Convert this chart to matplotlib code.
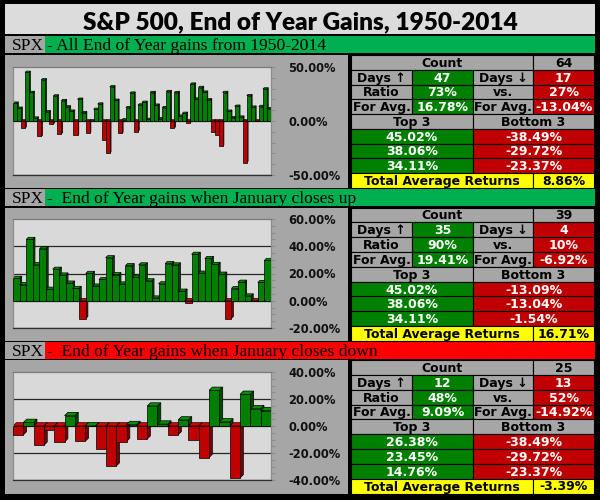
import matplotlib
matplotlib.use("Agg")
import matplotlib.pyplot as plt
from matplotlib.patches import Rectangle, Polygon
from matplotlib.ticker import MultipleLocator, FuncFormatter
import numpy as np

# ---------------- data ----------------
title = "S&P 500, End of Year Gains, 1950-2014"
section_titles = ["- All End of Year gains from 1950-2014",
                  "-  End of Year gains when January closes up",
                  "-  End of Year gains when January closes down"]

# yearly gains 1951-2014 (%)
gains_all = [16.46, 11.78, -6.62, 45.02, 26.40, 2.62, -14.31, 38.06, 8.48, -2.97,
             23.13, -11.81, 18.89, 12.97, 9.06, -13.09, 20.09, 7.66, -11.36, 0.10,
             10.79, 15.63, -17.37, -29.72, 31.55, 19.15, -11.50, 1.06, 12.31, 25.77,
             -9.73, 14.76, 17.27, 1.40, 26.33, 14.62, 2.03, 12.40, 27.25, -6.56,
             26.31, 4.46, 7.06, -1.54, 34.11, 20.26, 31.01, 26.67, 19.53, -10.14,
             -13.04, -23.37, 26.38, 8.99, 3.00, 13.62, 3.53, -38.49, 23.45, 12.78,
             -0.003, 13.41, 29.60, 11.39]
# years where January closed up
gains_jan_up = [16.46, 11.78, 45.02, 26.40, 38.06, 8.48, 23.13, 18.89, 12.97, 9.06,
                -13.09, 20.09, 10.79, 15.63, 31.55, 19.15, 12.31, 25.77, 17.27, 26.33,
                14.62, 2.03, 12.40, 27.25, 26.31, 7.06, -1.54, 34.11, 20.26, 31.01,
                26.67, 19.53, -13.04, 8.99, 13.62, 3.53, -0.003, 13.41, 29.60]
# years where January closed down
gains_jan_down = [-6.62, 2.62, -14.31, -2.97, -11.81, 7.66, -11.36, 0.10, -17.37, -29.72,
                  -11.50, 1.06, -9.73, 14.76, 1.40, -6.56, 4.46, -10.14, -23.37, 26.38,
                  3.00, -38.49, 23.45, 12.78, 11.39]

counts = [64, 39, 25]
days_up = [47, 35, 12]
days_down = [17, 4, 13]
ratio_up = [73, 90, 48]
ratio_down = [27, 10, 52]
avg_up = [16.78, 19.41, 9.09]
avg_down = [-13.04, -6.92, -14.92]
top3 = [[45.02, 38.06, 34.11], [45.02, 38.06, 34.11], [26.38, 23.45, 14.76]]
bottom3 = [[-38.49, -29.72, -23.37], [-13.09, -13.04, -1.54], [-38.49, -29.72, -23.37]]
total_avg = [8.86, 16.71, -3.39]

ylims = [(-50, 50), (-20, 60), (-40, 40)]
major_steps = [50, 20, 20]
minor_steps = [10, 5, 5]

# ---------------- style ----------------
W, H = 600, 500
GRAY = "#a6a6a6"
LIGHT = "#d9d9d9"
GREEN_HDR = "#00b050"
RED_HDR = "#ff0000"
GREEN = "#008000"
RED = "#c00000"
YELLOW = "#ffff00"
SANS = ["DejaVu Sans"]
TITLEF = ["Lato", "DejaVu Sans"]
SERIF = ["Liberation Serif", "DejaVu Serif"]

plt.rcParams["font.family"] = ["DejaVu Sans"]
plt.rcParams["font.weight"] = "bold"

fig = plt.figure(figsize=(6, 5), dpi=100, facecolor="black")


def rect(x, y, w, h, color, z=-5, ec="none", lw=0):
    fig.add_artist(Rectangle((x / W, 1 - (y + h) / H), w / W, h / H,
                             transform=fig.transFigure, facecolor=color,
                             edgecolor=ec, linewidth=lw, zorder=z))


def text(x, y, s, **kw):
    fig.text(x / W, 1 - y / H, s, **kw)


# title
rect(4.5, 4, 590.5, 29.5, "#dcdcdc")
text(300, 29.5, title, ha="center", va="baseline", fontsize=17.6,
     fontweight="heavy", family=TITLEF, color="black")

sec_top = [36, 189, 342]
body_top = [55, 207.5, 360]
body_bot = [188, 341, 493.5]
plot_y = [(67, 175), (219, 328), (372, 480)]
hdr_colors = [GREEN_HDR, GREEN_HDR, RED_HDR]
series = [gains_all, gains_jan_up, gains_jan_down]

cols = [351, 412, 473, 533, 594]

for s in range(3):
    t = sec_top[s]
    # header
    rect(4.5, t, 40.5, 16.5, GRAY)
    rect(45, t, 550, 16.5, hdr_colors[s])
    text(12, t + 14, "SPX", ha="left", va="baseline", fontsize=12.5,
         family=SERIF, fontweight="normal", color="black")
    text(47, t + 14, section_titles[s], ha="left", va="baseline", fontsize=12.6,
         family=SERIF, fontweight="normal", color="black")

    # body background
    bt, bb = body_top[s], body_bot[s]
    rect(4.5, bt, 343.5, bb - bt, GRAY)
    rect(348, bt, 2.5, bb - bt, "black", z=-4)

    # ---------- table ----------
    rh = (bb - bt) / 9.0

    def cell(r, c0, c1, color, s_txt, tcolor="black"):
        x0, x1 = cols[c0], cols[c1]
        y0 = bt + r * rh
        rect(x0, y0, x1 - x0, rh, color, z=2, ec="black", lw=0.8)
        text((x0 + x1) / 2, y0 + rh - 3, s_txt, ha="center", va="baseline",
             fontsize=9, fontweight="bold", family=SANS, color=tcolor, zorder=3)

    cell(0, 0, 3, GRAY, "Count")
    cell(0, 3, 4, GRAY, f"{counts[s]}")
    cell(1, 0, 1, GRAY, "Days \u2191")
    cell(1, 1, 2, GREEN, f"{days_up[s]}", "white")
    cell(1, 2, 3, GRAY, "Days \u2193")
    cell(1, 3, 4, RED, f"{days_down[s]}", "white")
    cell(2, 0, 1, GRAY, "Ratio")
    cell(2, 1, 2, GREEN, f"{ratio_up[s]}%", "white")
    cell(2, 2, 3, GRAY, "vs.")
    cell(2, 3, 4, RED, f"{ratio_down[s]}%", "white")
    cell(3, 0, 1, GRAY, "For Avg.")
    cell(3, 1, 2, GREEN, f"{avg_up[s]:.2f}%", "white")
    cell(3, 2, 3, GRAY, "For Avg.")
    cell(3, 3, 4, RED, f"{avg_down[s]:.2f}%", "white")
    cell(4, 0, 2, GRAY, "Top 3")
    cell(4, 2, 4, GRAY, "Bottom 3")
    for k in range(3):
        cell(5 + k, 0, 2, GREEN, f"{top3[s][k]:.2f}%", "white")
        cell(5 + k, 2, 4, RED, f"{bottom3[s][k]:.2f}%", "white")
    cell(8, 0, 3, YELLOW, "Total Average Returns")
    cell(8, 3, 4, YELLOW, f"{total_avg[s]:.2f}%")

    # ---------- chart ----------
    py0, py1 = plot_y[s]
    px0, px1 = 13, 271
    ax = fig.add_axes([px0 / W, 1 - py1 / H, (px1 - px0) / W, (py1 - py0) / H])
    ax.set_zorder(5)
    ax.set_facecolor(LIGHT)
    vals = np.array(series[s])
    n = len(vals)
    lo_y, hi_y = ylims[s]
    ax.set_xlim(-0.5, n - 0.5)
    ax.set_ylim(lo_y, hi_y)

    slot_px = (px1 - px0) / n
    depth_px = 0.32 * slot_px
    dx = depth_px / slot_px
    dy = depth_px * (hi_y - lo_y) / (py1 - py0)

    # gridlines
    for g in np.arange(lo_y, hi_y, major_steps[s]):
        ax.axhline(g, color="#262626", lw=0.9, zorder=0.5)

    x = np.arange(n)
    face = [GREEN if v >= 0 else RED for v in vals]
    bars = ax.bar(x, vals, width=1.0, color=face, edgecolor="black", linewidth=0.5)
    for i, (b, v) in enumerate(zip(bars, vals)):
        b.set_zorder(3 + 2 * i)
        lo, hi = min(v, 0), max(v, 0)
        side_c = "#004a00" if v >= 0 else "#7a0000"
        top_c = "#009000" if v >= 0 else "#d80000"
        xr = i + 0.5
        xl = i - 0.5
        side = Polygon([(xr, lo), (xr + dx, lo + dy), (xr + dx, hi + dy), (xr, hi)],
                       closed=True, facecolor=side_c, edgecolor="black", linewidth=0.5,
                       zorder=2 + 2 * i)
        top = Polygon([(xl, hi), (xl + dx, hi + dy), (xr + dx, hi + dy), (xr, hi)],
                      closed=True, facecolor=top_c, edgecolor="black", linewidth=0.5,
                      zorder=2 + 2 * i)
        ax.add_patch(side)
        ax.add_patch(top)

    ax.set_xticks([])
    ax.yaxis.tick_right()
    ax.yaxis.set_major_locator(MultipleLocator(major_steps[s]))
    ax.yaxis.set_minor_locator(MultipleLocator(minor_steps[s]))
    ax.yaxis.set_major_formatter(FuncFormatter(lambda v, p: f"{v:.2f}%"))
    ax.tick_params(axis="y", which="both", direction="out", length=3,
                   color="#8c8c8c", width=0.8)
    ax.tick_params(axis="y", which="major", pad=9.4, labelsize=8.3,
                   labelcolor="#111111")
    ax.spines["top"].set_color("#7a7a7a")
    ax.spines["bottom"].set_color("#303030")
    ax.spines["left"].set_color("#8c8c8c")
    ax.spines["right"].set_color("#8c8c8c")
    for sp in ax.spines.values():
        sp.set_linewidth(0.9)

fig.savefig("out.png", dpi=100, facecolor="black")
